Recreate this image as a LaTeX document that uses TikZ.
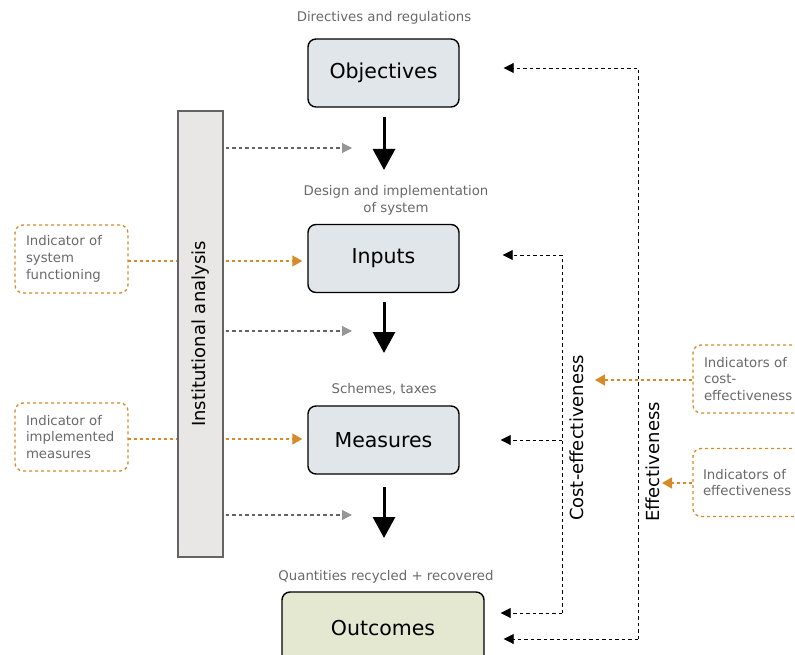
\documentclass[tikz,border=0pt]{standalone}
\usepackage{fontspec}
\setmainfont{DejaVu Sans}
\usetikzlibrary{arrows.meta}
\definecolor{boxfill}{RGB}{224,230,233}
\definecolor{outfill}{RGB}{228,232,208}
\definecolor{barfill}{RGB}{232,231,229}
\definecolor{barline}{RGB}{100,100,100}
\definecolor{orng}{RGB}{214,138,42}
\definecolor{lbl}{RGB}{105,105,105}
\definecolor{gline}{RGB}{100,100,100}
\definecolor{ghead}{RGB}{150,150,150}
\begin{document}
\begin{tikzpicture}[x=1pt,y=-1pt,
  mainbox/.style={draw=black, line width=1.4pt, rounded corners=8pt, fill=boxfill,
    minimum width=151pt, minimum height=68pt, inner sep=0pt, font=\fontsize{20.5}{24}\selectfont},
  indbox/.style={draw=orng, line width=1.3pt, dash pattern=on 3pt off 3pt, rounded corners=8pt,
    minimum width=113pt, minimum height=68pt, inner xsep=11pt, text width=91pt, align=left,
    text=lbl, font=\fontsize{13.3}{16.8}\selectfont},
  toplbl/.style={text=lbl, font=\fontsize{13.3}{17}\selectfont, align=center, inner sep=0pt},
  rottext/.style={rotate=90, font=\fontsize{18}{22}\selectfont, inner sep=0pt},
  bigarrow/.style={-{Triangle[width=22pt,length=21pt]}, line width=3pt},
  grayarrow/.style={draw=gline, line width=1.1pt, dash pattern=on 3.5pt off 3pt,
    -{Triangle[width=10pt,length=10pt,color=ghead]}},
  orarrow/.style={draw=orng, line width=1.5pt, dash pattern=on 3pt off 3pt,
    -{Triangle[width=11pt,length=10pt]}},
  orline/.style={draw=orng, line width=1.5pt, dash pattern=on 3pt off 3pt},
  blkarrow/.style={draw=black, line width=0.9pt, dash pattern=on 3.5pt off 3pt,
    -{Triangle[width=10pt,length=10pt]}}
]
\useasboundingbox (0,0) rectangle (795,655);
\clip (0,0) rectangle (795,655);

% main boxes
\node[mainbox] (obj) at (383.5,73) {Objectives};
\node[mainbox] (inp) at (383.5,258.5) {Inputs};
\node[mainbox] (mea) at (383.5,440) {Measures};
\node[mainbox, fill=outfill, minimum width=202pt, minimum height=72pt] (outc) at (383,628) {Outcomes};

% labels above boxes
\node[toplbl] (l1) at (384,18) {Directives and regulations};
\node[toplbl] (l2) at (396,200.5) {Design and implementation\\of system};
\node[toplbl] (l3) at (384,389) {Schemes, taxes};
\node[toplbl] (l4) at (386,577) {Quantities recycled + recovered};

% thick arrows
\coordinate (a1s) at (384,117); \coordinate (a1e) at (384,170);
\coordinate (a2s) at (384,302); \coordinate (a2e) at (384,353);
\coordinate (a3s) at (384,487); \coordinate (a3e) at (384,538);
\draw[bigarrow] (a1s) -- (a1e);
\draw[bigarrow] (a2s) -- (a2e);
\draw[bigarrow] (a3s) -- (a3e);

% institutional bar
\node[draw=barline, line width=1.2pt, fill=barfill, minimum width=45pt, minimum height=446pt, inner sep=0pt] (bar) at (200.5,334) {};
\node[rottext] (bartext) at (bar.center) {Institutional analysis};

% gray dashed arrows
\coordinate (g1) at (352,148); \coordinate (g2) at (352,331); \coordinate (g3) at (352,515);
\draw[grayarrow] ([xshift=2pt]bar.east |- g1) -- (g1);
\draw[grayarrow] ([xshift=2pt]bar.east |- g2) -- (g2);
\draw[grayarrow] ([xshift=2pt]bar.east |- g3) -- (g3);

% left indicator boxes
\node[indbox] (ind1) at (71.5,259) {Indicator of\\system\\functioning};
\node[indbox] (ind2) at (71.5,437) {Indicator of\\implemented\\measures};
\coordinate (o1) at (128,261); \coordinate (o2) at (128,439);
\draw[orline] (o1) -- (bar.west |- o1);
\draw[orarrow, shorten >=5pt] ([xshift=2pt]bar.east |- o1) -- (inp.west |- o1);
\draw[orline] (o2) -- (bar.west |- o2);
\draw[orarrow, shorten >=5pt] ([xshift=2pt]bar.east |- o2) -- (mea.west |- o2);

% effectiveness loop
\coordinate (eT) at (638,68); \coordinate (eB) at (638,639);
\draw[blkarrow, shorten >=44pt] (eB) -- (eT) -- (obj.east |- eT);
\draw[blkarrow, shorten >=19pt] (eB) -- (outc.east |- eB);

% cost-effectiveness loop
\coordinate (cT) at (562,255); \coordinate (cB) at (562,613);
\draw[blkarrow, shorten >=43pt] (cB) -- (cT) -- (inp.east |- cT);
\draw[blkarrow, shorten >=41pt] (cT |- mea.east) -- (mea.east);
\draw[blkarrow, shorten >=16pt] (cB) -- (outc.east |- cB);

% rotated labels
\node[rottext] (ce) at (577,438) {Cost-effectiveness};
\node[rottext] (ef) at (653,462) {Effectiveness};

% right indicator boxes
\node[indbox] (ind3) at (749.5,379) {Indicators of\\cost-\\effectiveness};
\node[indbox, inner xsep=10pt, text width=93pt] (ind4) at (749.5,482.5) {Indicators of\\effectiveness};
\coordinate (ct) at (595,380); \coordinate (et) at (662,483);
\draw[orarrow] (ind3.west |- ct) -- (ct);
\draw[orarrow] (ind4.west |- et) -- (et);
\end{tikzpicture}
\end{document}
